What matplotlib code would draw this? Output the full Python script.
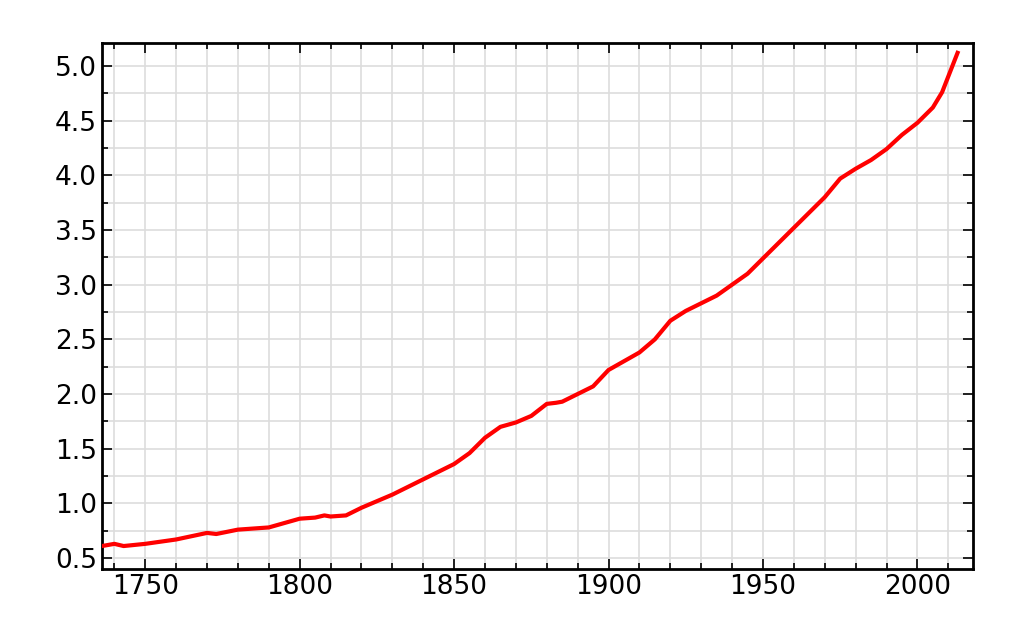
import matplotlib
matplotlib.use("Agg")
import matplotlib.pyplot as plt
from matplotlib.ticker import MultipleLocator

years = [1736,1740,1743,1750,1760,1765,1770,1773,1780,1790,1800,1805,1808,1810,1815,1820,1830,1840,1850,1855,1860,1865,1870,1875,1880,1883,1885,1890,1895,1900,1905,1910,1915,1920,1925,1930,1935,1940,1945,1950,1960,1970,1975,1980,1985,1990,1995,2000,2005,2008,2013]
values = [0.61,0.63,0.61,0.63,0.67,0.70,0.73,0.72,0.76,0.78,0.86,0.87,0.89,0.88,0.89,0.96,1.08,1.22,1.36,1.46,1.60,1.70,1.74,1.80,1.91,1.92,1.93,2.00,2.07,2.22,2.30,2.38,2.50,2.67,2.76,2.83,2.90,3.00,3.10,3.24,3.52,3.80,3.97,4.06,4.14,4.24,4.37,4.48,4.62,4.76,5.12]

fig = plt.figure(figsize=(10.24, 6.33), dpi=100)
ax = fig.add_axes([102/1024, 1-569/633, 871/1024, 526/633])
ax.plot(years, values, color='red', lw=3, zorder=3)
ax.set_xlim(1736, 2018)
ax.set_ylim(0.40, 5.21)
ax.xaxis.set_major_locator(MultipleLocator(50))
ax.xaxis.set_minor_locator(MultipleLocator(10))
ax.yaxis.set_major_locator(MultipleLocator(0.5))
ax.yaxis.set_minor_locator(MultipleLocator(0.25))
ax.yaxis.set_major_formatter(matplotlib.ticker.FormatStrFormatter('%.1f'))
ax.grid(True, which='both', color='#dddddd', lw=1.2, zorder=0)
ax.tick_params(which='both', direction='in', top=True, right=True, labelsize=19, width=1.2)
ax.tick_params(which='major', length=7)
ax.tick_params(which='minor', length=4)
for s in ax.spines.values():
    s.set_linewidth(2)
fig.savefig("out.png", dpi=100)
